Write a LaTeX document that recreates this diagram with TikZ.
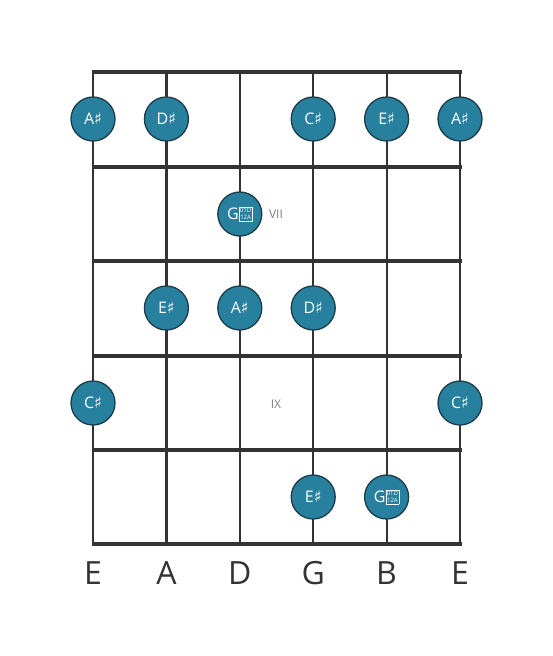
\documentclass[tikz,border=0pt]{standalone}
\usepackage{fontspec}
\setmainfont{Open Sans}
\newfontfamily\symfont{DejaVu Sans}
\definecolor{notefill}{RGB}{38,128,158}
\definecolor{noteline}{RGB}{30,60,72}
\definecolor{gridc}{RGB}{51,51,51}
\newcommand\shp{{\symfont\char"266F}}
\newcommand\tofu{{\setlength\fboxsep{0.7pt}\setlength\fboxrule{0.6pt}\raisebox{-0.5pt}{\fbox{\fontsize{6}{5.6}\selectfont\shortstack{01D\\12A}}}}}
\begin{document}
\begin{tikzpicture}[x=1pt,y=-1pt,
  stringline/.style={draw=gridc,line width=2.2pt},
  fretline/.style={draw=gridc,line width=4pt},
  note/.style={circle,fill=notefill,draw=noteline,line width=1.3pt,minimum size=44pt,inner sep=0pt,text=white,font=\fontsize{16}{16}\selectfont},
  fretlabel/.style={text=gray,font=\fontsize{12}{12}\selectfont},
  strlabel/.style={text=gridc,font=\fontsize{32}{32}\selectfont}]
\useasboundingbox (0,0) rectangle (553,656);
% strings
\foreach \i/\x in {1/93,2/166.4,3/239.8,4/313.2,5/386.6,6/460}{
  \coordinate (st\i) at (\x,72);
  \coordinate (sb\i) at (\x,544);
  \draw[stringline] (st\i) -- (sb\i);
}
% frets
\foreach \j/\y in {0/72,1/166.5,2/261,3/355.5,4/450,5/544}{
  \coordinate (fl\j) at (91.5,\y);
  \coordinate (fr\j) at (461.5,\y);
  \draw[fretline] (fl\j) -- (fr\j);
}
% notes
\node[note] (n1) at (93,119) {A\shp};
\node[note] (n2) at (166.4,119) {D\shp};
\node[note] (n3) at (313.2,119) {C\shp};
\node[note] (n4) at (386.6,119) {E\shp};
\node[note] (n5) at (460,119) {A\shp};
\node[note] (n6) at (239.8,214) {G\tofu};
\node[note] (n7) at (166.4,308) {E\shp};
\node[note] (n8) at (239.8,308) {A\shp};
\node[note] (n9) at (313.2,308) {D\shp};
\node[note] (n10) at (93,403) {C\shp};
\node[note] (n11) at (460,403) {C\shp};
\node[note] (n12) at (313.2,497) {E\shp};
\node[note] (n13) at (386.6,497) {G\tofu};
% fret labels
\node[fretlabel] (vii) at (276,214) {VII};
\node[fretlabel] (ix) at (276,404) {IX};
% string labels
\foreach \i/\x/\t in {1/93/E,2/166.4/A,3/239.8/D,4/313.2/G,5/386.6/B,6/460/E}{
  \node[strlabel] (l\i) at (\x,573) {\t};
}
\end{tikzpicture}
\end{document}
